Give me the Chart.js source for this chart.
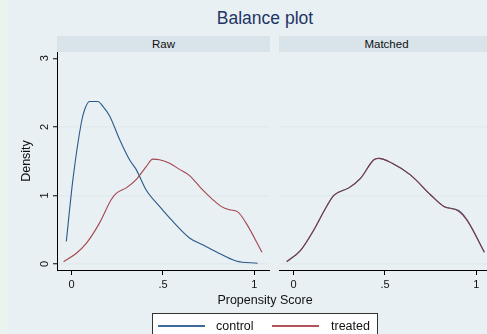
<!DOCTYPE html>
<html>
<head>
<meta charset="utf-8">
<script src="https://cdn.jsdelivr.net/npm/chart.js@4.4.1/dist/chart.umd.min.js"></script>
<style>
  html, body { margin: 0; padding: 0; }
  body {
    width: 487px; height: 334px; overflow: hidden; position: relative;
    background: #e8f0f3; font-family: "Liberation Sans", Arial, sans-serif;
  }
  #strip { position: absolute; left: 0; top: 0; width: 8px; height: 334px; background: #eaf3ee; }
  #title {
    position: absolute; left: 0; width: 530px; top: 8px; text-align: center;
    font-size: 17.5px; color: #1f3566;
  }
  .head {
    position: absolute; top: 36px; height: 16px; line-height: 16px; background: #d8e4ea;
    text-align: center; font-size: 11.5px; color: #111;
  }
  canvas { position: absolute; }
  #xtitle {
    position: absolute; left: 0; width: 530px; top: 293px; text-align: center;
    font-size: 12.5px; color: #111;
  }
  #legend {
    position: absolute; left: 152px; top: 313px; width: 224px; height: 30px;
    background: #fff; border: 1px solid #333; font-size: 12.5px; color: #111;
  }
  .sw { position: absolute; top: 11px; height: 2px; }
  .lt { position: absolute; top: 5px; }
</style>
</head>
<body>
<div id="strip"></div>
<div id="title">Balance plot</div>
<div class="head" style="left:57px;width:213px">Raw</div>
<div class="head" style="left:279px;width:215px">Matched</div>
<canvas id="raw" width="272" height="300" style="left:0;top:0;width:272px;height:300px"></canvas>
<canvas id="matched" width="214" height="300" style="left:279px;top:0;width:214px;height:300px"></canvas>
<div id="xtitle">Propensity Score</div>
<div id="legend">
  <div class="sw" style="left:5px;width:47px;background-color:#3d6a96"></div>
  <div class="lt" style="left:63px">control</div>
  <div class="sw" style="left:119px;width:47px;background-color:#b2545b"></div>
  <div class="lt" style="left:178px">treated</div>
</div>
<script>
// raw sample densities
const rawControlX = [-0.029, 0.007, 0.053, 0.071, 0.098, 0.144, 0.171, 0.208, 0.262, 0.317, 0.353, 0.408, 0.481, 0.554, 0.645, 0.717, 0.79, 0.9, 1.018];
const rawControlY = [0.33, 1.23, 2.06, 2.25, 2.37, 2.37, 2.30, 2.16, 1.82, 1.52, 1.38, 1.08, 0.84, 0.62, 0.38, 0.28, 0.18, 0.044, 0.01];

const rawTreatedX = [-0.044, 0.026, 0.08, 0.153, 0.217, 0.244, 0.299, 0.353, 0.408, 0.444, 0.481, 0.536, 0.59, 0.645, 0.717, 0.772, 0.818, 0.863, 0.909, 0.954, 1.042];
const rawTreatedY = [0.034, 0.157, 0.30, 0.60, 0.94, 1.03, 1.11, 1.23, 1.42, 1.53, 1.52, 1.47, 1.38, 1.29, 1.08, 0.94, 0.84, 0.79, 0.76, 0.60, 0.17];

// matched sample densities (control and treated nearly identical)
const matchedX = [-0.038, 0.038, 0.111, 0.166, 0.220, 0.302, 0.366, 0.439, 0.466, 0.539, 0.639, 0.749, 0.822, 0.903, 0.949, 1.044];
const matchedControlY = [0.034, 0.20, 0.50, 0.77, 1.0, 1.11, 1.25, 1.52, 1.54, 1.47, 1.30, 1.01, 0.84, 0.78, 0.64, 0.17];
const matchedTreatedY = [0.034, 0.20, 0.50, 0.77, 1.0, 1.11, 1.25, 1.52, 1.54, 1.47, 1.30, 1.01, 0.84, 0.77, 0.64, 0.17];

const xTicks = [0, 0.5, 1];
const xTickLabels = ["0", ".5", "1"];
const yTicks = [0, 1, 2, 3];
const yTickLabels = ["0", "1", "2", "3"];

const BLUE = "#2a5a8a";
const RED = "#a4464e";
const FONT = "Liberation Sans";

function pts(xs, ys) {
  return xs.map((x, i) => ({ x: x, y: ys[i] }));
}

// lower order is drawn on top, so treated sits over control
function line(label, xs, ys, color, order) {
  return {
    label: label,
    data: pts(xs, ys),
    borderColor: color,
    borderWidth: 1.1,
    pointRadius: 0,
    fill: false,
    order: order,
    cubicInterpolationMode: "monotone"
  };
}

function options(showY) {
  return {
    responsive: false,
    animation: false,
    layout: { padding: { top: 52, right: showY ? 3 : 2, bottom: 0, left: 0 } },
    plugins: { legend: { display: false }, tooltip: { enabled: false } },
    scales: {
      x: {
        type: "linear",
        min: -0.08,
        max: 1.08,
        afterBuildTicks: s => { s.ticks = xTicks.map(v => ({ value: v })); },
        afterFit: s => { s.height = 30; },
        border: { display: true, color: "#000", width: 1 },
        grid: { drawOnChartArea: false, color: "#000", tickLength: 5 },
        ticks: {
          padding: 3,
          color: "#111",
          font: { family: FONT, size: 11 },
          callback: v => xTickLabels[xTicks.indexOf(v)]
        }
      },
      y: {
        type: "linear",
        min: -0.0875,
        max: 3.092,
        afterBuildTicks: s => { s.ticks = yTicks.map(v => ({ value: v })); },
        afterFit: s => { s.width = showY ? 57 : 0; },
        border: { display: showY, color: "#000", width: 1 },
        grid: {
          color: c => (c.tick && c.tick.value === 3 ? "rgba(0,0,0,0)" : "#e2eaee"),
          lineWidth: 1.5,
          tickColor: "#000",
          tickWidth: 1,
          tickLength: 4,
          drawTicks: showY
        },
        ticks: {
          display: showY,
          minRotation: 90,
          maxRotation: 90,
          crossAlign: "center",
          padding: 5,
          color: "#111",
          font: { family: FONT, size: 11 },
          callback: v => yTickLabels[yTicks.indexOf(v)]
        },
        title: {
          display: showY,
          text: "Density",
          color: "#111",
          font: { family: FONT, size: 12.5 },
          padding: { top: 19.5, bottom: 0 }
        }
      }
    }
  };
}

new Chart(document.getElementById("raw"), {
  type: "line",
  data: {
    datasets: [
      line("control", rawControlX, rawControlY, BLUE, 2),
      line("treated", rawTreatedX, rawTreatedY, RED, 1)
    ]
  },
  options: options(true)
});

new Chart(document.getElementById("matched"), {
  type: "line",
  data: {
    datasets: [
      line("control", matchedX, matchedControlY, BLUE, 2),
      line("treated", matchedX, matchedTreatedY, "rgba(140,50,62,0.85)", 1)
    ]
  },
  options: options(false)
});
</script>
</body>
</html>
